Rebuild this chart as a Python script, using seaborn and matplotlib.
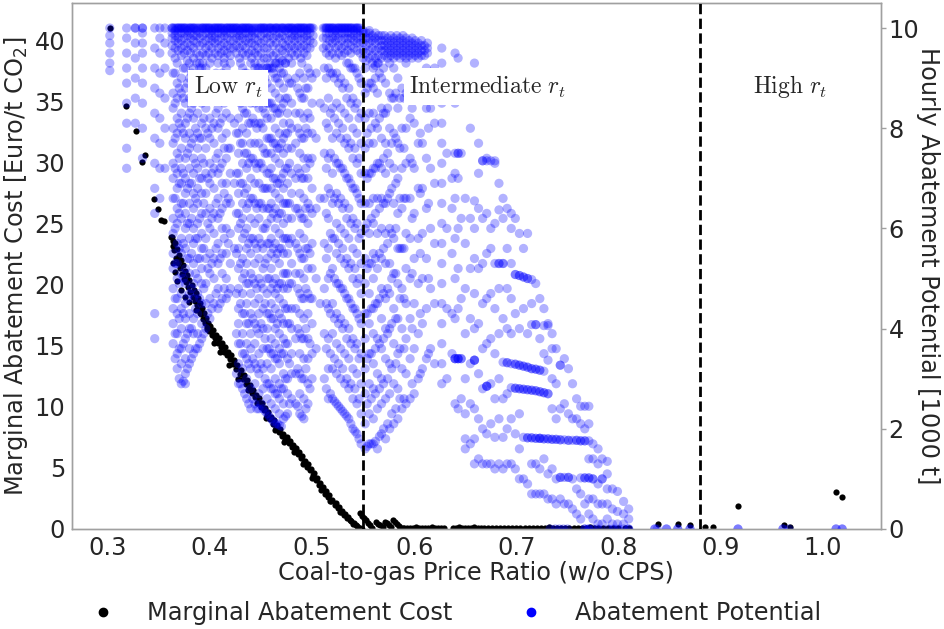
import matplotlib
matplotlib.use("Agg")
import matplotlib.pyplot as plt
from matplotlib.lines import Line2D
import pandas as pd
import seaborn as sns

# ---------------- data ----------------
# Marginal abatement cost [Euro/t CO2] vs coal-to-gas price ratio
mac_tail = [(0.302, 41.0), (0.3183, 34.6), (0.3274, 32.6), (0.3336, 30.05), (0.3366, 30.6),
            (0.3453, 27.0), (0.3496, 26.2), (0.3526, 25.3), (0.3552, 25.2), (0.3623, 23.9)]
mac_curve = [(0.3625, 23.9), (0.3635, 23.6), (0.364, 23.2), (0.365, 22.8), (0.366, 23.4), (0.367, 22.2),
             (0.368, 22.9), (0.369, 21.8), (0.370, 22.4), (0.371, 21.4), (0.372, 22.0), (0.373, 20.9),
             (0.374, 21.6), (0.375, 20.5), (0.376, 21.1), (0.377, 20.2), (0.378, 20.8), (0.379, 19.8),
             (0.380, 20.4), (0.381, 19.4), (0.382, 20.0), (0.383, 19.0), (0.384, 19.6), (0.385, 18.7),
             (0.386, 19.3), (0.387, 18.3), (0.388, 18.9), (0.389, 17.9), (0.390, 18.5), (0.391, 17.6),
             (0.392, 18.1), (0.393, 17.2), (0.394, 17.7), (0.395, 16.9), (0.396, 17.3), (0.397, 16.5),
             (0.398, 16.9), (0.399, 16.2), (0.400, 16.6), (0.402, 15.9), (0.403, 16.3), (0.405, 15.6),
             (0.406, 15.9), (0.408, 15.2), (0.409, 15.6), (0.411, 14.9), (0.412, 15.2), (0.414, 14.5),
             (0.415, 14.9), (0.417, 14.2), (0.418, 14.5), (0.420, 13.9), (0.421, 14.2), (0.423, 13.5),
             (0.424, 13.8), (0.426, 13.1), (0.427, 13.4), (0.429, 12.7), (0.430, 13.0), (0.432, 12.3),
             (0.433, 12.6), (0.435, 11.9), (0.436, 12.2), (0.438, 11.5), (0.439, 11.8), (0.441, 11.1),
             (0.442, 11.4), (0.444, 10.8), (0.445, 11.0), (0.447, 10.4), (0.448, 10.7), (0.450, 10.0),
             (0.451, 10.3), (0.453, 9.7), (0.454, 9.9), (0.456, 9.3), (0.457, 9.6), (0.459, 9.0),
             (0.460, 9.2), (0.462, 8.6), (0.463, 8.9), (0.465, 8.3), (0.466, 8.5), (0.468, 7.9),
             (0.469, 8.2), (0.471, 7.6), (0.472, 7.8), (0.474, 7.3), (0.475, 7.5), (0.477, 7.0),
             (0.478, 7.2), (0.480, 6.7), (0.481, 6.9), (0.483, 6.4), (0.484, 6.6), (0.486, 6.1),
             (0.487, 6.3), (0.489, 5.8), (0.490, 6.0), (0.492, 5.5), (0.493, 5.6), (0.495, 5.1),
             (0.496, 5.3), (0.498, 4.8), (0.499, 4.9), (0.501, 4.4), (0.502, 4.6), (0.504, 4.0),
             (0.505, 4.2), (0.507, 3.6), (0.508, 3.8), (0.510, 3.3), (0.511, 3.4), (0.513, 2.9),
             (0.514, 3.1), (0.516, 2.6), (0.517, 2.8), (0.519, 2.3), (0.520, 2.4), (0.522, 2.0),
             (0.523, 2.1), (0.525, 1.7), (0.526, 1.8), (0.528, 1.4), (0.529, 1.5), (0.531, 1.15),
             (0.532, 1.2), (0.534, 0.9), (0.535, 0.95), (0.537, 0.7), (0.538, 0.65), (0.540, 0.45),
             (0.541, 0.5), (0.543, 0.3), (0.544, 0.25), (0.546, 0.12), (0.547, 0.1), (0.549, 0.02)]
mac_spread = [(0.364, 21.8), (0.366, 21.0), (0.368, 20.3), (0.372, 19.6), (0.376, 19.0), (0.380, 18.6),
              (0.386, 17.9), (0.390, 17.7), (0.397, 16.4), (0.404, 15.2), (0.410, 14.5), (0.419, 13.4),
              (0.428, 12.3), (0.437, 11.4), (0.446, 10.3), (0.455, 9.1), (0.464, 8.1), (0.473, 7.1),
              (0.482, 6.3), (0.491, 5.3), (0.500, 4.2), (0.509, 3.2), (0.518, 2.3), (0.527, 1.4)]
mac_kinks = [(0.547, 1.3), (0.549, 1.1), (0.551, 0.9), (0.553, 0.7), (0.555, 0.5), (0.557, 0.3),
             (0.559, 0.1), (0.563, 0.6), (0.565, 0.45), (0.567, 0.3), (0.569, 0.15), (0.571, 0.6),
             (0.573, 0.5), (0.575, 0.35), (0.577, 0.2), (0.579, 0.75), (0.581, 0.55), (0.583, 0.4),
             (0.585, 0.25), (0.587, 0.12), (0.589, 0.05)]
mac_flat = [(0.590, 0.1), (0.593, 0.12), (0.596, 0.08), (0.599, 0.1), (0.602, 0.15), (0.605, 0.1),
            (0.608, 0.12), (0.611, 0.08), (0.614, 0.1), (0.617, 0.14), (0.620, 0.1), (0.623, 0.08),
            (0.626, 0.12), (0.629, 0.1), (0.638, 0.1), (0.641, 0.12), (0.644, 0.2), (0.647, 0.1),
            (0.650, 0.08), (0.653, 0.12), (0.656, 0.1), (0.659, 0.15), (0.662, 0.1), (0.665, 0.08),
            (0.668, 0.12), (0.672, 0.1), (0.676, 0.1), (0.680, 0.12), (0.684, 0.08), (0.688, 0.1),
            (0.692, 0.12), (0.696, 0.1), (0.700, 0.08), (0.704, 0.1), (0.708, 0.12), (0.712, 0.1),
            (0.716, 0.08), (0.720, 0.1), (0.724, 0.12), (0.728, 0.1), (0.732, 0.15), (0.736, 0.1),
            (0.740, 0.12), (0.744, 0.08), (0.748, 0.1), (0.752, 0.1), (0.756, 0.08), (0.760, 0.1),
            (0.764, 0.12), (0.768, 0.1), (0.772, 0.15), (0.776, 0.1), (0.780, 0.12), (0.785, 0.08),
            (0.790, 0.1), (0.795, 0.12), (0.800, 0.1), (0.806, 0.08), (0.810, 0.1)]
mac_far = [(0.8385, 0.4), (0.858, 0.45), (0.8705, 0.35), (0.8845, 0.15), (0.8925, 0.15),
           (0.917, 1.88), (0.962, 0.35), (0.968, 0.15), (1.013, 3.05), (1.019, 2.64)]

# Hourly abatement potential [1000 t]: columns of points (x, [values])
pot_sparse = [(0.302, [9.15, 9.3, 9.5, 9.7, 9.85, 10.0]),
              (0.3185, [7.2, 7.6, 8.1, 8.5, 8.9, 9.2, 9.5, 9.8, 10.0]),
              (0.327, [8.1, 8.6, 9.0, 9.4, 9.7, 10.0, 10.0]),
              (0.334, [7.4, 8.0, 8.5, 8.9, 9.2, 9.5, 9.7, 9.9, 10.0, 10.0]),
              (0.346, [3.8, 4.3, 6.3, 6.8, 7.3, 7.8, 8.3, 8.8, 9.2, 9.6, 10.0]),
              (0.351, [6.6, 7.2, 7.7, 8.2, 8.7, 9.1, 9.5, 9.8, 10.0]),
              (0.356, [7.2, 8.0, 8.6, 9.2, 9.7, 10.0])]
pot_low = [(0.364, [3.7, 4.1, 4.4, 4.8, 5.2, 5.5, 5.9, 6.2, 6.6, 7.0, 7.3, 7.7, 8.0, 8.4, 8.7, 9.1]),
           (0.368, [3.2, 3.5, 3.9, 4.3, 4.6, 5.0, 5.3, 5.7, 6.1, 6.4, 6.8, 7.1, 7.5, 7.9, 8.2, 8.6, 8.9, 9.3]),
           (0.372, [2.9, 3.3, 3.6, 4.0, 4.4, 4.7, 5.1, 5.5, 5.8, 6.2, 6.5, 6.9, 7.2, 7.6, 8.0, 8.3, 8.7, 9.0]),
           (0.376, [2.9, 3.1, 3.4, 3.8, 4.2, 4.5, 4.9, 5.2, 5.6, 6.0, 6.3, 6.7, 7.0, 7.4, 7.8, 8.1, 8.5, 8.8, 9.2]),
           (0.380, [3.3, 3.6, 4.0, 4.3, 4.7, 5.1, 5.4, 5.8, 6.1, 6.5, 6.9, 7.2, 7.6, 7.9, 8.3, 8.6, 9.0, 9.3]),
           (0.384, [3.5, 3.9, 4.2, 4.6, 4.9, 5.3, 5.7, 6.0, 6.4, 6.7, 7.1, 7.4, 7.8, 8.2, 8.5, 8.9, 9.2]),
           (0.388, [3.6, 3.9, 4.3, 4.7, 5.0, 5.4, 5.8, 6.1, 6.5, 6.8, 7.2, 7.6, 7.9, 8.3, 8.6, 9.0]),
           (0.392, [3.8, 4.1, 4.5, 4.9, 5.2, 5.6, 5.9, 6.3, 6.7, 7.0, 7.4, 7.8, 8.1, 8.5, 8.8, 9.2]),
           (0.396, [4.0, 4.5, 4.9, 5.4, 5.8, 6.3, 6.7, 7.1, 7.6, 8.0, 8.4, 8.8, 9.0, 9.2]),
           (0.400, [4.2, 4.6, 5.1, 5.5, 6.0, 6.4, 6.9, 7.3, 7.8, 8.2, 8.6, 8.9, 9.3]),
           (0.404, [4.5, 5.0, 5.4, 5.9, 6.3, 6.8, 7.2, 7.7, 8.1, 8.6, 9.0]),
           (0.408, [4.4, 4.8, 5.3, 5.7, 6.2, 6.6, 7.1, 7.5, 8.0, 8.4, 8.9, 9.3]),
           (0.412, [4.6, 5.1, 5.5, 6.0, 6.4, 6.9, 7.3, 7.8, 8.2, 8.7, 9.1]),
           (0.416, [4.6, 5.0, 5.5, 6.0, 6.5, 6.9, 7.4, 7.9, 8.3, 8.8, 9.2]),
           (0.420, [4.8, 5.3, 5.9, 6.5, 7.1, 7.6, 8.2, 8.8, 9.3]),
           (0.424, [5.6, 6.9, 8.1, 9.0]),
           (0.428, [2.9, 3.3, 3.7, 4.1, 4.4, 4.8, 5.2, 5.6, 6.0, 6.3, 6.7, 7.1, 7.5, 7.9, 8.2, 8.6, 9.0]),
           (0.432, [2.8, 3.2, 3.5, 3.9, 4.3, 4.7, 5.0, 5.4, 5.8, 6.2, 6.5, 6.9, 7.3, 7.7, 8.0, 8.4, 8.8, 9.2]),
           (0.436, [2.6, 3.0, 3.4, 3.7, 4.1, 4.5, 4.9, 5.3, 5.6, 6.0, 6.4, 6.8, 7.2, 7.5, 7.9, 8.3, 8.7, 9.1]),
           (0.440, [2.4, 2.8, 3.2, 3.6, 3.9, 4.3, 4.7, 5.1, 5.5, 5.8, 6.2, 6.6, 7.0, 7.4, 7.7, 8.1, 8.5, 8.9, 9.3]),
           (0.444, [2.5, 2.9, 3.3, 3.7, 4.1, 4.5, 4.9, 5.3, 5.7, 6.1, 6.5, 6.9, 7.3, 7.7, 8.1, 8.5, 8.9, 9.2]),
           (0.448, [2.4, 2.7, 3.1, 3.5, 3.9, 4.3, 4.6, 5.0, 5.4, 5.8, 6.2, 6.5, 6.9, 7.3, 7.7, 8.1, 8.4, 8.8, 9.2]),
           (0.452, [2.4, 2.8, 3.2, 3.6, 4.0, 4.4, 4.8, 5.2, 5.6, 6.0, 6.4, 6.8, 7.2, 7.6, 8.0, 8.4, 8.8, 9.2]),
           (0.456, [2.3, 2.6, 2.9, 3.3, 3.6, 4.0, 4.3, 4.7, 5.0, 5.4, 5.7, 6.1, 6.4, 6.8, 7.1, 7.5, 7.8, 8.2, 8.5, 8.9, 9.2]),
           (0.460, [2.2, 2.5, 2.8, 3.2, 3.5, 3.8, 4.2, 4.5, 4.8, 5.2, 5.5, 5.8, 6.2, 6.5, 6.8, 7.2, 7.5, 7.8, 8.2, 8.5, 8.8, 9.2]),
           (0.464, [2.1, 2.4, 2.7, 3.0, 3.4, 3.7, 4.0, 4.4, 4.7, 5.0, 5.4, 5.7, 6.0, 6.4, 6.7, 7.0, 7.4, 7.7, 8.0, 8.4, 8.7, 9.0, 9.3]),
           (0.468, [2.07, 2.3, 2.6, 2.9, 3.3, 3.6, 3.9, 4.3, 4.6, 4.9, 5.3, 5.6, 5.9, 6.3, 6.6, 6.9, 7.3, 7.6, 7.9, 8.3, 8.6, 8.9, 9.3]),
           (0.472, [2.2, 2.5, 2.8, 3.1, 3.5, 3.8, 4.1, 4.5, 4.8, 5.1, 5.5, 5.8, 6.1, 6.5, 6.8, 7.1, 7.5, 7.8, 8.1, 8.5, 8.8, 9.1]),
           (0.476, [2.3, 2.7, 3.0, 3.4, 3.7, 4.1, 4.4, 4.8, 5.1, 5.5, 5.8, 6.2, 6.5, 6.9, 7.2, 7.6, 7.9, 8.3, 8.6, 9.0]),
           (0.480, [2.6, 3.1, 3.5, 4.0, 4.4, 4.9, 5.3, 5.8, 6.2, 6.7, 7.1, 7.6, 8.0, 8.5, 8.9, 9.3]),
           (0.484, [2.5, 3.1, 3.8, 4.4, 5.1, 5.7, 6.4, 7.0, 7.7, 8.3, 9.0]),
           (0.488, [2.3, 2.7, 3.1, 3.5, 3.9, 4.3, 4.7, 5.1, 5.5, 5.9, 6.3, 6.7, 7.1, 7.5, 7.9, 8.3, 8.7, 9.1]),
           (0.492, [2.2, 2.6, 3.0, 3.4, 3.8, 4.2, 4.6, 5.0, 5.4, 5.8, 6.2, 6.6, 7.0, 7.4, 7.8, 8.2, 8.6, 9.0]),
           (0.496, [2.5, 2.9, 3.4, 3.8, 4.3, 4.7, 5.2, 5.6, 6.1, 6.5, 7.0, 7.4, 7.9, 8.3, 8.8, 9.2]),
           (0.500, [3.0, 3.5, 4.1, 4.6, 5.2, 5.7, 6.3, 6.8, 7.4, 7.9, 8.5, 9.0]),
           (0.504, [3.6, 5.0, 6.4, 7.8, 9.1]),
           (0.508, [4.5, 6.6, 8.5]),
           (0.512, [3.0, 3.9, 4.8, 5.7, 6.6, 7.5, 8.4, 9.2]),
           (0.516, [2.6, 3.2, 3.8, 4.4, 5.0, 5.6, 6.2, 6.8, 7.4, 8.0, 8.6, 9.2]),
           (0.520, [2.6, 3.2, 3.9, 4.5, 5.2, 5.8, 6.5, 7.1, 7.8, 8.4, 9.1]),
           (0.524, [2.5, 3.1, 3.7, 4.3, 4.9, 5.5, 6.1, 6.7, 7.3, 7.9, 8.5, 9.1]),
           (0.528, [2.4, 3.0, 3.6, 4.2, 4.8, 5.4, 6.0, 6.6, 7.2, 7.8, 8.4, 9.0]),
           (0.532, [2.3, 2.9, 3.5, 4.1, 4.7, 5.3, 5.9, 6.5, 7.1, 7.7, 8.3, 8.9]),
           (0.536, [2.2, 2.8, 3.4, 4.0, 4.6, 5.2, 5.8, 6.4, 7.0, 7.6, 8.2, 8.8, 9.3]),
           (0.540, [2.0, 2.6, 3.2, 3.8, 4.4, 5.0, 5.6, 6.2, 6.8, 7.4, 8.0, 8.6, 9.2]),
           (0.544, [1.9, 2.5, 3.1, 3.7, 4.3, 4.9, 5.5, 6.1, 6.7, 7.3, 7.9, 8.5, 9.1]),
           (0.548, [1.7, 2.3, 2.9, 3.5, 4.1, 4.7, 5.3, 5.9, 6.5, 7.1, 7.7, 8.3, 8.9])]
pot_low2 = [(0.366, [3.4, 3.9, 4.6, 5.3, 6.0, 6.6, 7.2, 7.8, 8.5, 9.1]),
            (0.370, [3.0, 3.6, 4.2, 4.9, 5.6, 6.3, 6.9, 7.4, 8.1, 8.8]),
            (0.374, [2.95, 3.7, 4.3, 5.0, 5.7, 6.5, 7.1, 7.9, 8.6, 9.2]),
            (0.378, [3.2, 3.9, 4.6, 5.4, 6.1, 6.8, 7.5, 8.2, 8.9]),
            (0.382, [3.4, 4.0, 4.8, 5.5, 6.2, 6.9, 7.7, 8.4, 9.1]),
            (0.386, [3.6, 4.4, 5.1, 5.8, 6.6, 7.3, 8.0, 8.7]),
            (0.390, [3.7, 4.6, 5.4, 6.2, 7.0, 7.8, 8.6, 9.3]),
            (0.394, [3.9, 4.8, 5.6, 6.5, 7.3, 8.2, 9.0]),
            (0.398, [4.3, 5.2, 6.1, 7.0, 7.9, 8.7]),
            (0.402, [4.4, 5.3, 6.2, 7.1, 8.0, 8.9]),
            (0.406, [4.7, 5.6, 6.5, 7.4, 8.3, 9.1]),
            (0.410, [4.5, 5.4, 6.3, 7.2, 8.1, 9.0]),
            (0.414, [4.8, 5.8, 6.7, 7.6, 8.5, 9.3]),
            (0.418, [4.7, 5.7, 6.6, 7.6, 8.6]),
            (0.426, [3.1, 3.9, 4.7, 5.5, 6.3, 7.1, 7.9, 8.7]),
            (0.430, [2.9, 3.7, 4.5, 5.3, 6.1, 6.9, 7.7, 8.5, 9.3]),
            (0.434, [2.7, 3.5, 4.3, 5.1, 5.9, 6.7, 7.5, 8.3, 9.1]),
            (0.438, [2.5, 3.3, 4.1, 4.9, 5.7, 6.5, 7.3, 8.1, 8.9]),
            (0.442, [2.6, 3.4, 4.2, 5.0, 5.8, 6.6, 7.4, 8.2, 9.0]),
            (0.446, [2.4, 3.2, 4.0, 4.8, 5.6, 6.4, 7.2, 8.0, 8.8]),
            (0.450, [2.5, 3.3, 4.1, 4.9, 5.7, 6.5, 7.3, 8.1, 8.9]),
            (0.454, [2.35, 3.0, 3.8, 4.5, 5.3, 6.0, 6.8, 7.5, 8.3, 9.0]),
            (0.458, [2.25, 2.9, 3.6, 4.3, 5.0, 5.7, 6.4, 7.1, 7.8, 8.5, 9.2]),
            (0.462, [2.15, 2.8, 3.5, 4.2, 4.9, 5.6, 6.3, 7.0, 7.7, 8.4, 9.1]),
            (0.466, [2.1, 2.7, 3.4, 4.1, 4.8, 5.5, 6.2, 6.9, 7.6, 8.3, 9.0]),
            (0.470, [2.05, 2.8, 3.5, 4.2, 4.9, 5.6, 6.3, 7.0, 7.7, 8.4, 9.1]),
            (0.474, [2.25, 3.0, 3.7, 4.4, 5.1, 5.8, 6.5, 7.2, 7.9, 8.6, 9.3]),
            (0.478, [2.5, 3.3, 4.1, 4.9, 5.7, 6.5, 7.3, 8.1, 8.9]),
            (0.486, [2.45, 3.2, 4.0, 4.8, 5.6, 6.4, 7.2, 8.0, 8.8]),
            (0.490, [2.25, 3.0, 3.8, 4.6, 5.4, 6.2, 7.0, 7.8, 8.6, 9.3]),
            (0.494, [2.4, 3.2, 4.0, 4.8, 5.6, 6.4, 7.2, 8.0, 8.8]),
            (0.498, [2.8, 3.7, 4.6, 5.5, 6.4, 7.3, 8.2, 9.1]),
            (0.514, [2.8, 3.6, 4.5, 5.4, 6.3, 7.2, 8.1, 9.0]),
            (0.518, [2.7, 3.5, 4.3, 5.1, 5.9, 6.7, 7.5, 8.3, 9.1]),
            (0.522, [2.55, 3.4, 4.2, 5.0, 5.8, 6.6, 7.4, 8.2, 9.0]),
            (0.526, [2.45, 3.3, 4.1, 4.9, 5.7, 6.5, 7.3, 8.1, 8.9]),
            (0.530, [2.35, 3.2, 4.0, 4.8, 5.6, 6.4, 7.2, 8.0, 8.8]),
            (0.534, [2.25, 3.0, 3.8, 4.6, 5.4, 6.2, 7.0, 7.8, 8.6, 9.3]),
            (0.538, [2.1, 2.9, 3.7, 4.5, 5.3, 6.1, 6.9, 7.7, 8.5, 9.2]),
            (0.542, [1.95, 2.8, 3.6, 4.4, 5.2, 6.0, 6.8, 7.6, 8.4, 9.2]),
            (0.546, [1.8, 2.6, 3.4, 4.2, 5.0, 5.8, 6.6, 7.4, 8.2, 9.0])]
pot_mid = [(0.552, [1.6, 2.1, 2.7, 3.2, 3.8, 4.3, 4.9, 5.4, 6.0, 6.5, 7.1, 7.6, 8.2, 8.7, 9.2]),
           (0.556, [1.7, 2.3, 2.9, 3.5, 4.1, 4.7, 5.3, 5.9, 6.5, 7.1, 7.7, 8.3, 8.9]),
           (0.560, [1.7, 2.2, 2.8, 3.3, 3.9, 4.4, 5.0, 5.5, 6.1, 6.6, 7.2, 7.7, 8.3, 8.8, 9.2]),
           (0.564, [1.6, 2.4, 3.1, 3.8, 4.5, 5.2, 5.9, 6.6, 7.3, 8.0, 8.7, 9.3]),
           (0.568, [1.9, 2.5, 3.0, 3.6, 4.2, 4.8, 5.4, 6.0, 6.6, 7.2, 7.8, 8.4, 9.0]),
           (0.572, [1.8, 2.6, 3.4, 4.0, 4.6, 5.3, 5.9, 6.5, 7.1, 7.7, 8.3, 8.9]),
           (0.576, [2.0, 2.7, 3.3, 4.0, 4.7, 5.3, 6.0, 6.7, 7.3, 8.0, 8.7, 9.3]),
           (0.580, [2.1, 2.9, 3.7, 4.4, 5.1, 5.8, 6.5, 7.2, 7.9, 8.6, 9.2]),
           (0.584, [2.2, 2.8, 3.5, 4.2, 4.9, 5.6, 6.3, 7.0, 7.7, 8.4, 9.0]),
           (0.588, [2.4, 3.2, 4.0, 4.8, 5.6, 6.4, 7.2, 8.0, 8.8]),
           (0.592, [2.5, 3.1, 3.8, 4.5, 5.2, 5.9, 6.6, 7.3, 8.0, 8.7, 9.3]),
           (0.596, [2.6, 3.4, 4.2, 5.0, 5.8, 6.6, 7.4, 8.2, 9.0]),
           (0.600, [2.7, 3.6, 4.5, 5.4, 6.3, 7.2, 8.1, 9.0]),
           (0.604, [3.0, 3.9, 4.9, 5.8, 6.8, 7.7, 8.7]),
           (0.608, [3.2, 4.1, 5.0, 5.9, 6.8, 7.7, 8.6]),
           (0.612, [3.4, 4.4, 5.4, 6.4, 7.4, 8.4, 9.2]),
           (0.616, [3.6, 4.8, 6.0, 7.2, 8.4]),
           (0.620, [3.3, 4.5, 5.7, 6.9, 8.1, 9.2]),
           (0.627, [2.9, 3.3, 3.7, 4.1, 4.5, 4.9, 5.3, 5.7, 6.1, 6.5, 6.9, 7.3, 7.7, 8.1, 8.5, 8.9, 9.3, 9.6]),
           (0.632, [3.0, 4.4, 6.0, 7.5]),
           (0.637, [3.5, 4.3, 5.5, 6.4, 7.0])]
pot_mid2 = [(0.554, [1.65, 2.5, 3.4, 4.3, 5.2, 6.1, 7.0, 7.9, 8.8]),
            (0.558, [1.7, 2.6, 3.5, 4.4, 5.3, 6.2, 7.1, 8.0, 8.9]),
            (0.562, [1.75, 2.7, 3.6, 4.5, 5.4, 6.3, 7.2, 8.1, 9.0]),
            (0.566, [1.85, 2.8, 3.7, 4.6, 5.5, 6.4, 7.3, 8.2, 9.1]),
            (0.570, [2.0, 2.9, 3.8, 4.7, 5.6, 6.5, 7.4, 8.3, 9.2]),
            (0.574, [2.1, 3.0, 3.9, 4.8, 5.7, 6.6, 7.5, 8.4]),
            (0.578, [2.3, 3.2, 4.1, 5.0, 5.9, 6.8, 7.7, 8.6]),
            (0.582, [2.4, 3.3, 4.2, 5.1, 6.0, 6.9, 7.8, 8.7]),
            (0.586, [2.6, 3.6, 4.6, 5.6, 6.6, 7.6, 8.6]),
            (0.590, [2.6, 3.6, 4.6, 5.6, 6.6, 7.6, 8.6]),
            (0.598, [2.9, 4.0, 5.1, 6.2, 7.3, 8.4]),
            (0.606, [3.1, 4.3, 5.5, 6.7, 7.9, 9.1]),
            (0.614, [3.5, 5.0, 6.5, 8.0])]
pot_high = [(0.640, [2.5, 3.4, 3.4, 3.4, 4.2, 5.0, 5.8, 6.6, 7.1, 7.5, 8.5, 9.5]),
            (0.643, [2.4, 3.4, 3.4, 3.4, 4.4, 5.2, 6.0, 7.0, 7.5, 7.5, 9.4]),
            (0.646, [2.6, 3.4, 3.4, 4.6, 6.2, 7.5, 8.8]),
            (0.650, [1.6, 1.8, 2.3, 3.0, 3.9, 4.8, 5.7, 6.6, 8.6]),
            (0.655, [1.7, 2.5, 3.3, 4.2, 5.2, 6.2, 8.0]),
            (0.659, [1.3, 1.8, 2.4, 3.37, 3.37, 3.37, 4.0, 4.7, 5.4, 6.0, 6.55, 9.3]),
            (0.663, [1.4, 2.2, 3.1, 4.1, 5.2, 6.4, 7.1, 7.7]),
            (0.667, [1.3, 2.0, 2.8, 3.6, 4.5, 5.3, 6.2, 7.35, 7.35]),
            (0.671, [1.3, 1.9, 2.85, 2.85, 2.85, 3.7, 4.6, 5.5, 6.3, 7.35, 7.4]),
            (0.675, [1.3, 2.1, 2.9, 3.8, 4.7, 5.6, 6.0, 7.35]),
            (0.679, [1.2, 1.83, 2.6, 3.5, 4.4, 5.3, 6.1, 7.35, 7.3]),
            (0.683, [1.3, 2.2, 3.0, 3.9, 4.8, 5.3, 5.3, 6.37, 6.9]),
            (0.687, [1.2, 1.83, 2.6, 3.33, 4.2, 5.3, 5.3, 6.2, 6.6]),
            (0.691, [1.3, 2.0, 2.7, 3.32, 3.32, 4.0, 4.8, 5.6, 6.4]),
            (0.695, [1.3, 2.2, 2.82, 3.3, 3.9, 4.6, 5.3, 6.0, 6.3]),
            (0.699, [1.2, 1.9, 2.81, 2.81, 3.29, 3.29, 4.3, 5.08, 5.08, 6.2]),
            (0.703, [1.0, 1.6, 2.3, 2.8, 2.8, 3.27, 3.27, 4.0, 5.06, 5.06, 5.9]),
            (0.707, [1.0, 1.83, 2.79, 2.79, 3.25, 3.25, 4.4, 5.03, 5.03, 5.6]),
            (0.711, [0.9, 1.82, 1.82, 2.78, 2.78, 3.23, 3.23, 3.9, 5.0, 5.0, 5.9]),
            (0.715, [0.7, 1.3, 1.82, 1.82, 2.77, 2.77, 3.2, 3.2, 4.08, 4.5, 4.98]),
            (0.719, [0.7, 1.3, 1.81, 1.81, 2.76, 2.76, 3.19, 3.19, 4.08, 4.08, 4.9]),
            (0.723, [0.7, 1.2, 1.81, 1.81, 1.81, 2.74, 2.74, 3.17, 3.17, 3.8, 4.6]),
            (0.727, [0.7, 1.4, 1.8, 1.8, 2.72, 2.72, 3.15, 3.5, 4.06, 4.4]),
            (0.731, [0.6, 1.1, 1.8, 1.8, 2.7, 2.7, 3.37, 4.06, 4.1]),
            (0.735, [0.6, 1.2, 1.79, 1.79, 2.4, 3.0, 3.6, 3.9]),
            (0.739, [0.5, 1.0, 1.79, 1.79, 2.2, 2.9, 3.6]),
            (0.743, [0.6, 1.03, 1.03, 1.78, 1.78, 2.4, 3.27, 3.27]),
            (0.747, [0.5, 1.03, 1.78, 2.5, 3.4]),
            (0.751, [0.5, 1.03, 1.03, 1.77, 1.77, 2.3, 3.2]),
            (0.755, [0.4, 1.0, 1.77, 2.2, 2.9]),
            (0.759, [0.3, 0.8, 1.77, 1.77, 2.2, 2.6]),
            (0.763, [0.2, 0.7, 1.02, 1.76, 1.76, 2.1, 2.45]),
            (0.767, [0.0, 0.5, 1.02, 1.02, 1.76, 1.76, 2.0, 2.45]),
            (0.771, [0.0, 0.3, 0.6, 1.02, 1.02, 1.4, 1.76, 2.1, 2.45]),
            (0.775, [0.2, 0.6, 1.0, 1.0, 1.4, 1.7]),
            (0.780, [0.1, 0.5, 0.9, 1.3, 1.6]),
            (0.784, [0.1, 0.5, 1.0, 1.0, 1.4]),
            (0.789, [0.2, 0.5, 0.8, 1.1, 1.35]),
            (0.794, [0.1, 0.4, 0.8]),
            (0.799, [0.1, 0.35, 0.75]),
            (0.805, [0.1, 0.3, 0.55]),
            (0.810, [0.0, 0.2, 0.4])]
pot_band = [(0.363, [9.5, 9.65, 9.8, 9.9, 10.0, 10.0]), (0.366, [9.4, 9.6, 9.75, 9.85, 9.95, 10.0]),
            (0.369, [9.55, 9.7, 9.8, 9.9, 10.0, 10.0]), (0.372, [9.45, 9.6, 9.75, 9.9, 10.0, 10.0]),
            (0.375, [9.5, 9.65, 9.8, 9.9, 10.0, 10.0]), (0.378, [9.35, 9.55, 9.7, 9.85, 9.95, 10.0]),
            (0.381, [9.5, 9.65, 9.8, 9.9, 10.0, 10.0]), (0.384, [9.4, 9.6, 9.75, 9.85, 10.0, 10.0]),
            (0.387, [9.3, 9.5, 9.7, 9.85, 9.95, 10.0]), (0.390, [9.2, 9.45, 9.65, 9.8, 9.9, 10.0]),
            (0.393, [9.3, 9.5, 9.7, 9.85, 10.0, 10.0]), (0.396, [9.45, 9.6, 9.75, 9.9, 10.0, 10.0]),
            (0.399, [9.5, 9.65, 9.8, 9.9, 10.0, 10.0]), (0.402, [9.4, 9.6, 9.75, 9.85, 9.95, 10.0]),
            (0.405, [9.5, 9.7, 9.8, 9.9, 10.0, 10.0]), (0.408, [9.45, 9.6, 9.75, 9.9, 10.0, 10.0]),
            (0.411, [9.5, 9.65, 9.8, 9.9, 10.0, 10.0]), (0.414, [9.4, 9.55, 9.7, 9.85, 9.95, 10.0]),
            (0.417, [9.5, 9.65, 9.8, 9.9, 10.0, 10.0]), (0.420, [9.45, 9.6, 9.75, 9.9, 10.0, 10.0]),
            (0.423, [9.6, 9.75, 9.9, 10.0, 10.0]), (0.426, [9.5, 9.65, 9.8, 9.9, 10.0, 10.0]),
            (0.429, [9.4, 9.6, 9.75, 9.85, 9.95, 10.0]), (0.432, [9.5, 9.65, 9.8, 9.9, 10.0, 10.0]),
            (0.435, [9.45, 9.6, 9.75, 9.9, 10.0, 10.0]), (0.438, [9.5, 9.7, 9.8, 9.9, 10.0, 10.0]),
            (0.441, [9.4, 9.55, 9.7, 9.85, 9.95, 10.0]), (0.444, [9.3, 9.5, 9.65, 9.8, 9.9, 10.0]),
            (0.447, [9.2, 9.45, 9.6, 9.75, 9.9, 10.0]), (0.450, [9.3, 9.5, 9.7, 9.85, 10.0, 10.0]),
            (0.453, [9.4, 9.6, 9.75, 9.9, 10.0, 10.0]), (0.456, [9.2, 9.4, 9.6, 9.8, 9.9, 10.0]),
            (0.459, [9.3, 9.5, 9.7, 9.85, 10.0, 10.0]), (0.462, [9.2, 9.45, 9.65, 9.8, 9.95, 10.0]),
            (0.465, [9.3, 9.5, 9.7, 9.85, 10.0, 10.0]), (0.468, [9.2, 9.4, 9.6, 9.8, 9.9, 10.0]),
            (0.471, [9.35, 9.55, 9.7, 9.85, 10.0, 10.0]), (0.474, [9.3, 9.5, 9.65, 9.8, 9.95, 10.0]),
            (0.477, [9.4, 9.6, 9.75, 9.9, 10.0, 10.0]), (0.480, [9.5, 9.65, 9.8, 9.9, 10.0, 10.0]),
            (0.483, [9.45, 9.6, 9.75, 9.85, 9.95, 10.0]), (0.486, [9.5, 9.65, 9.8, 9.9, 10.0, 10.0]),
            (0.489, [9.4, 9.6, 9.75, 9.9, 10.0, 10.0]), (0.492, [9.5, 9.65, 9.8, 9.9, 10.0, 10.0]),
            (0.495, [9.45, 9.6, 9.75, 9.85, 9.95, 10.0]), (0.498, [9.6, 9.75, 9.9, 10.0, 10.0]),
            (0.501, [9.7, 9.85, 10.0]), (0.511, [9.6, 9.8, 10.0]),
            (0.514, [9.5, 9.65, 9.8, 9.9, 10.0, 10.0]), (0.517, [9.45, 9.6, 9.75, 9.9, 10.0, 10.0]),
            (0.520, [9.5, 9.7, 9.8, 9.9, 10.0, 10.0]), (0.523, [9.4, 9.6, 9.75, 9.85, 9.95, 10.0]),
            (0.526, [9.5, 9.65, 9.8, 9.9, 10.0, 10.0]), (0.529, [9.45, 9.6, 9.75, 9.9, 10.0, 10.0]),
            (0.532, [9.5, 9.65, 9.8, 9.9, 10.0, 10.0]), (0.535, [9.55, 9.7, 9.8, 9.9, 10.0, 10.0]),
            (0.538, [9.5, 9.65, 9.8, 9.9, 10.0, 10.0]), (0.541, [9.6, 9.75, 9.85, 9.95, 10.0]),
            (0.544, [9.55, 9.7, 9.8, 9.9, 10.0, 10.0]), (0.547, [9.5, 9.7, 9.85, 9.95, 10.0]),
            (0.550, [9.4, 9.55, 9.7, 9.8, 9.9, 9.95]), (0.553, [9.35, 9.5, 9.65, 9.8, 9.9]),
            (0.556, [9.4, 9.55, 9.7, 9.8, 9.9, 9.95]), (0.559, [9.3, 9.45, 9.6, 9.75, 9.85]),
            (0.562, [9.25, 9.4, 9.55, 9.7, 9.8, 9.9]), (0.565, [9.3, 9.45, 9.6, 9.75, 9.85]),
            (0.568, [9.4, 9.55, 9.65, 9.75, 9.85]), (0.571, [9.45, 9.55, 9.65, 9.75, 9.85]),
            (0.574, [9.4, 9.5, 9.6, 9.7, 9.8]), (0.577, [9.45, 9.55, 9.65, 9.75, 9.85]),
            (0.580, [9.4, 9.5, 9.6, 9.7, 9.8]), (0.583, [9.45, 9.55, 9.65, 9.75, 9.85]),
            (0.586, [9.4, 9.5, 9.6, 9.7, 9.8]), (0.589, [9.45, 9.55, 9.65, 9.75, 9.85]),
            (0.592, [9.4, 9.5, 9.6, 9.7, 9.8]), (0.595, [9.45, 9.55, 9.65, 9.75]),
            (0.598, [9.4, 9.5, 9.6, 9.7, 9.8]), (0.601, [9.45, 9.55, 9.65, 9.75]),
            (0.604, [9.4, 9.5, 9.6, 9.7]), (0.607, [9.45, 9.55, 9.65, 9.75]),
            (0.610, [9.45, 9.55, 9.65]), (0.613, [9.5, 9.6, 9.7])]
# hours exactly at the 10 (x1000 t) cap
pot_cap_x = [0.3645, 0.3675, 0.3705, 0.3735, 0.3765, 0.3795, 0.3825, 0.3855, 0.3885, 0.3915,
             0.3945, 0.3975, 0.4005, 0.4035, 0.4065, 0.4095, 0.4125, 0.4155, 0.4185, 0.4215,
             0.4245, 0.4275, 0.4305, 0.4335, 0.4365, 0.4395, 0.4425, 0.4455, 0.4485, 0.4515,
             0.4545, 0.4575, 0.4605, 0.4635, 0.4665, 0.4695, 0.4725, 0.4755, 0.4785, 0.4815,
             0.4845, 0.4875, 0.4905, 0.4935, 0.4965, 0.4995, 0.5125, 0.5155, 0.5185, 0.5215,
             0.5245, 0.5275, 0.5305, 0.5335, 0.5365, 0.5395, 0.5425, 0.5455]
pot_zero_x = [0.733, 0.738, 0.742, 0.746, 0.750, 0.767, 0.771, 0.775, 0.780, 0.790, 0.795,
              0.800, 0.805, 0.810, 0.8355, 0.8355, 0.838, 0.847, 0.847, 0.858, 0.858, 0.870,
              0.870, 0.917, 0.917, 0.961, 0.961, 0.967, 1.013, 1.013, 1.019, 1.019]

regime_bounds = [0.55, 0.88]
regime_labels = [r"$\mathrm{Low}\ r_t$", r"$\mathrm{Intermediate}\ r_t$", r"$\mathrm{High}\ r_t$"]
regime_label_x = [0.418, 0.672, 0.968]
regime_label_y = [36.1, 36.2, 36.2]

# ---------------- frames ----------------
mac_pts = mac_tail + mac_curve + mac_spread + mac_kinks + mac_flat + mac_far
df_mac = pd.DataFrame(mac_pts, columns=["ratio", "mac"])
pot_rows = [(x, y) for group in (pot_sparse, pot_low, pot_low2, pot_mid, pot_mid2, pot_high, pot_band)
            for x, ys in group for y in ys]
pot_rows += [(x, 10.0) for x in pot_cap_x]
pot_rows += [(x, 0.0) for x in pot_zero_x]
df_pot = pd.DataFrame(pot_rows, columns=["ratio", "potential"])

# ---------------- plot ----------------
sns.set_style("white")
plt.rcParams["font.family"] = ["DejaVu Sans"]
FS = 17.3

fig = plt.figure(figsize=(9.45, 6.29), dpi=100)
ax = fig.add_axes([72 / 945, 1 - 529 / 629, (881 - 72) / 945, (529 - 3) / 629])
ax2 = ax.twinx()

sns.scatterplot(data=df_mac, x="ratio", y="mac", ax=ax, color="black", s=20,
                linewidth=0, legend=False)
sns.scatterplot(data=df_pot, x="ratio", y="potential", ax=ax2, color="#0000ff",
                alpha=0.3, s=44, linewidth=0, edgecolor="none", legend=False)

ax.set_xlim(0.265, 1.057)
ax.set_ylim(0, 43.05)
ax2.set_ylim(0, 10.5)
ax.set_xticks([0.3, 0.4, 0.5, 0.6, 0.7, 0.8, 0.9, 1.0])
ax.set_yticks(range(0, 41, 5))
ax2.set_yticks(range(0, 11, 2))

for xb in regime_bounds:
    ax2.axvline(xb, color="black", ls="--", lw=2, zorder=5)
for lx, ly, lab in zip(regime_label_x, regime_label_y, regime_labels):
    ax2.text(lx, ly, lab, transform=ax.transData, ha="center", va="center",
             fontsize=17, math_fontfamily="cm", zorder=6,
             bbox=dict(facecolor="white", edgecolor="none", pad=4))

ax.set_xlabel("Coal-to-gas Price Ratio (w/o CPS)", fontsize=FS, labelpad=1)
ax.set_ylabel(r"Marginal Abatement Cost [Euro/t CO$_2$]", fontsize=FS, labelpad=3)
ax2.set_ylabel("Hourly Abatement Potential [1000 t]", fontsize=FS, rotation=270, labelpad=15)

ax.tick_params(axis="both", length=0, labelsize=FS, pad=5)
ax2.tick_params(axis="y", length=3.5, width=1, color="#a0a0a0", labelsize=FS, pad=2)
for a in (ax, ax2):
    for sp in a.spines.values():
        sp.set_color("#a0a0a0")
        sp.set_linewidth(1)

handles = [Line2D([], [], marker="o", ls="", color="black", markersize=6),
           Line2D([], [], marker="o", ls="", color="#0000ff", markersize=6)]
fig.legend(handles, ["Marginal Abatement Cost", "Abatement Potential"], loc="center",
           bbox_to_anchor=(450 / 945, 1 - 613 / 629), ncol=2, frameon=False,
           fontsize=FS, handletextpad=0.8, columnspacing=2.3)

fig.savefig("out.png", dpi=100)
